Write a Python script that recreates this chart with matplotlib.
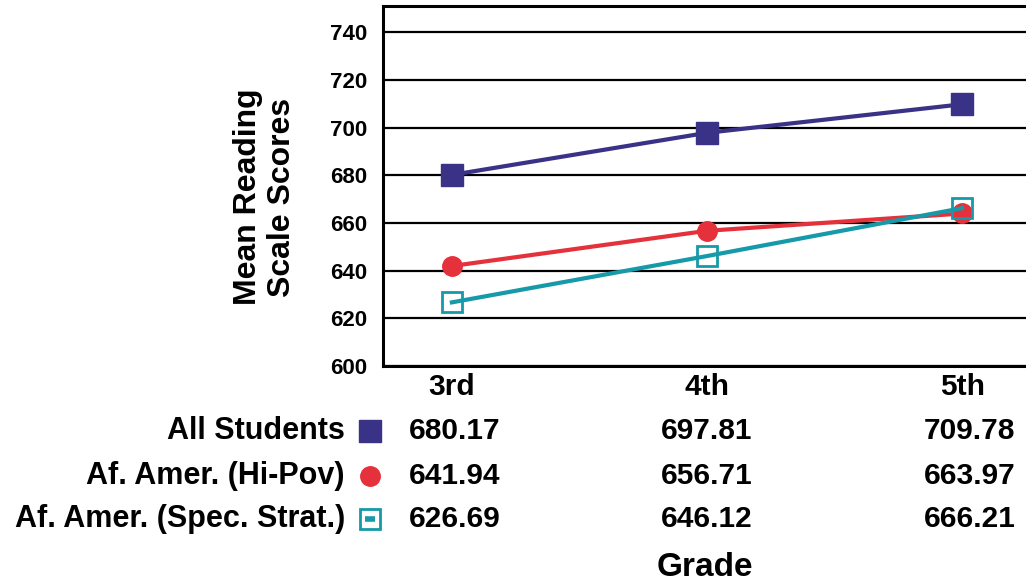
import matplotlib
matplotlib.use("Agg")
import matplotlib.pyplot as plt
from matplotlib.transforms import blended_transform_factory

plt.rcParams['font.family'] = ['Liberation Sans', 'DejaVu Sans']
plt.rcParams['font.weight'] = 'bold'

grades = ["3rd", "4th", "5th"]
series_names = ["All Students", "Af. Amer. (Hi-Pov)", "Af. Amer. (Spec. Strat.)"]
all_students = [680.17, 697.81, 709.78]
hi_pov = [641.94, 656.71, 663.97]
spec_strat = [626.69, 646.12, 666.21]
y_ticks = [600, 620, 640, 660, 680, 700, 720, 740]

navy = "#393287"
red = "#E4313B"
teal = "#1699A8"

fig = plt.figure(figsize=(10.26, 5.87), dpi=100)
ax = fig.add_axes([383 / 1026, 1 - 366 / 587, (1031 - 383) / 1026, (366 - 6) / 587])

x = list(range(len(grades)))
ax.plot(x, all_students, color=navy, lw=3, marker='s', ms=16.5, mfc=navy, mec=navy, zorder=5)
ax.plot(x, hi_pov, color=red, lw=3, marker='o', ms=14, mfc=red, mec=red, zorder=4)
ax.plot(x, spec_strat, color=teal, lw=3, marker='s', ms=14.5, mfc='none', mec=teal, mew=2, zorder=6)

ax.set_xlim(-0.27, 2.27)
ax.set_ylim(600, 751)
ax.set_yticks(y_ticks)
ax.set_yticklabels([str(v) for v in y_ticks], fontsize=16, fontweight='bold')
ax.set_xticks(x)
ax.set_xticklabels(grades, fontsize=21.5, fontweight='bold')
ax.tick_params(axis='y', length=0, pad=11)
ax.tick_params(axis='x', length=0, pad=5)
ax.yaxis.grid(True, color='black', lw=1.6)
ax.set_axisbelow(True)
for side in ['left', 'bottom', 'top', 'right']:
    ax.spines[side].set_linewidth(2.2)
    ax.spines[side].set_color('black')

fig.text(265 / 1026, 1 - 197 / 587, "Mean Reading\nScale Scores", rotation=90,
         ha='center', va='center', fontsize=23, fontweight='bold', linespacing=1.15)
fig.text(705 / 1026, 1 - 568 / 587, "Grade", ha='center', va='center',
         fontsize=24, fontweight='bold')

# Data table below the axis
trans = blended_transform_factory(ax.transData, fig.transFigure)
row_y = [1 - 431 / 587, 1 - 476 / 587, 1 - 519 / 587]
col_x = [0.01, 0.0, 0.03]
rows = [all_students, hi_pov, spec_strat]
for name, vals, ry in zip(series_names, rows, row_y):
    fig.text(345 / 1026, ry, name, ha='right', va='center', fontsize=22, fontweight='bold')
    for xi, dx, v in zip(x, col_x, vals):
        ax.text(xi + dx, ry, f"{v:.2f}", transform=trans, ha='center', va='center',
                fontsize=21.5, fontweight='bold', clip_on=False)

mx = 370 / 1026
ax.plot([mx], [row_y[0]], transform=fig.transFigure, marker='s', ms=16,
        color=navy, clip_on=False, ls='none')
ax.plot([mx], [row_y[1]], transform=fig.transFigure, marker='o', ms=14,
        color=red, clip_on=False, ls='none')
ax.plot([mx], [row_y[2]], transform=fig.transFigure, marker='s', ms=14,
        mfc='none', mec=teal, mew=2, clip_on=False, ls='none')
ax.plot([mx], [row_y[2]], transform=fig.transFigure, marker='_', ms=7,
        mec=teal, mew=4, clip_on=False, ls='none')

fig.savefig("out.png", dpi=100)
